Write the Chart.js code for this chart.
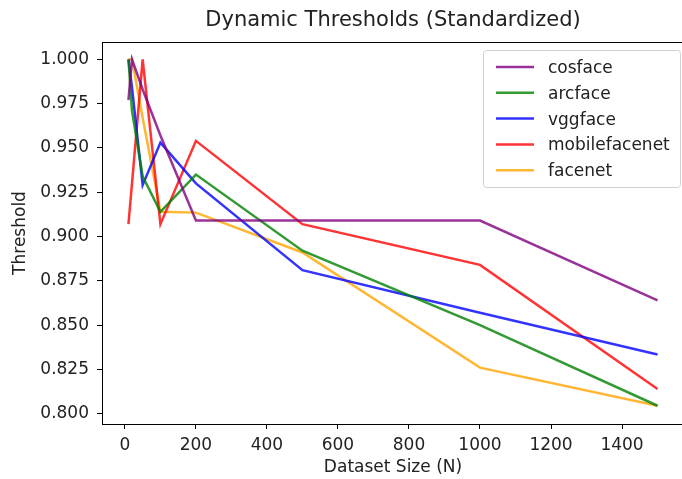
<!DOCTYPE html>
<html>
<head>
<meta charset="utf-8">
<script src="https://cdn.jsdelivr.net/npm/chart.js@4.4.0/dist/chart.umd.min.js"></script>
<style>
  html, body { margin: 0; padding: 0; background: #fff; overflow: hidden; }
  #wrap { width: 690px; height: 479px; position: relative; }
</style>
</head>
<body>
<div id="wrap"><canvas id="chart"></canvas></div>
<script>
// dataset sizes on the x axis
const sizes = [10, 20, 50, 100, 200, 500, 1000, 1500];

// threshold per model
const cosface = [0.977, 1.0, 0.983, 0.957, 0.909, 0.909, 0.909, 0.864];
const arcface = [1.0, 0.971, 0.934, 0.914, 0.935, 0.892, 0.850, 0.8045];
const vggface = [1.0, 0.984, 0.929, 0.953, 0.930, 0.881, 0.857, 0.8334];
const mobilefacenet = [0.907, 0.930, 1.0, 0.907, 0.954, 0.907, 0.884, 0.814];
const facenet = [1.0, 1.0, 0.967, 0.914, 0.9135, 0.891, 0.826, 0.8045];

const xTicks = [0, 200, 400, 600, 800, 1000, 1200, 1400];
const yTicks = [0.800, 0.825, 0.850, 0.875, 0.900, 0.925, 0.950, 0.975, 1.000];

const chartTitle = 'Dynamic Thresholds (Standardized)';
const FONT = "'DejaVu Sans', sans-serif";

function series(label, values, color) {
    return {
        label: label,
        data: sizes.map((n, i) => ({ x: n, y: values[i] })),
        borderColor: color,
        borderWidth: 2.5,
        pointRadius: 0,
        tension: 0,
        fill: false
    };
}

// box round the axes, title over the axes, legend inside the plot
const framePlugin = {
    id: 'frame',
    afterDraw(chart) {
        const ctx = chart.ctx;
        const a = chart.chartArea;
        ctx.save();
        ctx.strokeStyle = '#000';
        ctx.lineWidth = 1;
        ctx.strokeRect(Math.round(a.left) + 0.5, Math.round(a.top) + 0.5,
                       Math.round(a.right - a.left), Math.round(a.bottom - a.top));

        // title centred on the axes
        ctx.fillStyle = '#222';
        ctx.font = '21px ' + FONT;
        ctx.textAlign = 'center';
        ctx.textBaseline = 'middle';
        ctx.fillText(chartTitle, (a.left + a.right) / 2, 21);

        // legend
        const bx = 483, by = 50, bw = 197, bh = 137;
        ctx.fillStyle = 'rgba(255,255,255,0.8)';
        ctx.strokeStyle = '#d0d0d0';
        ctx.beginPath();
        ctx.roundRect(bx + 0.5, by + 0.5, bw, bh, 3);
        ctx.fill();
        ctx.stroke();
        ctx.font = '17px ' + FONT;
        ctx.textAlign = 'left';
        chart.data.datasets.forEach((ds, i) => {
            const y = 67 + i * 25.8;
            ctx.strokeStyle = ds.borderColor;
            ctx.lineWidth = 2.5;
            ctx.beginPath();
            ctx.moveTo(496, y);
            ctx.lineTo(534, y);
            ctx.stroke();
            ctx.fillStyle = '#222';
            ctx.fillText(ds.label, 548, y + 1.5);
        });
        ctx.restore();
    }
};

new Chart(document.getElementById('chart'), {
    type: 'line',
    data: {
        datasets: [
            series('cosface', cosface, 'rgba(128,0,128,0.8)'),
            series('arcface', arcface, 'rgba(0,128,0,0.8)'),
            series('vggface', vggface, 'rgba(0,0,255,0.8)'),
            series('mobilefacenet', mobilefacenet, 'rgba(255,0,0,0.8)'),
            series('facenet', facenet, 'rgba(255,165,0,0.8)')
        ]
    },
    options: {
        responsive: true,
        maintainAspectRatio: false,
        animation: false,
        layout: { padding: { top: 42, right: 6, left: 0, bottom: 0 } },
        scales: {
            x: {
                type: 'linear',
                min: -64.5,
                max: 1574.5,
                afterBuildTicks: scale => { scale.ticks = xTicks.map(v => ({ value: v })); },
                afterFit: scale => { scale.height = 55; },
                grid: { display: true, drawOnChartArea: false, tickLength: 5, tickColor: '#000' },
                border: { display: true, color: '#000' },
                ticks: { color: '#222', font: { family: FONT, size: 17 }, padding: 6, maxRotation: 0, callback: v => String(v) },
                title: { display: true, text: 'Dataset Size (N)', color: '#222', font: { family: FONT, size: 17 }, padding: { top: 0, bottom: 1 } }
            },
            y: {
                min: 0.7942,
                max: 1.0098,
                afterBuildTicks: scale => { scale.ticks = yTicks.map(v => ({ value: v })); },
                afterFit: scale => { scale.width = 102; },
                grid: { display: true, drawOnChartArea: false, tickLength: 5, tickColor: '#000' },
                border: { display: true, color: '#000' },
                ticks: { color: '#222', font: { family: FONT, size: 17 }, padding: 8, callback: v => v.toFixed(3) },
                title: { display: true, text: 'Threshold', color: '#222', font: { family: FONT, size: 17 }, padding: { top: 10, bottom: 0 } }
            }
        },
        plugins: {
            legend: { display: false },
            tooltip: { enabled: false },
            title: { display: false }
        }
    },
    plugins: [framePlugin]
});
</script>
</body>
</html>
